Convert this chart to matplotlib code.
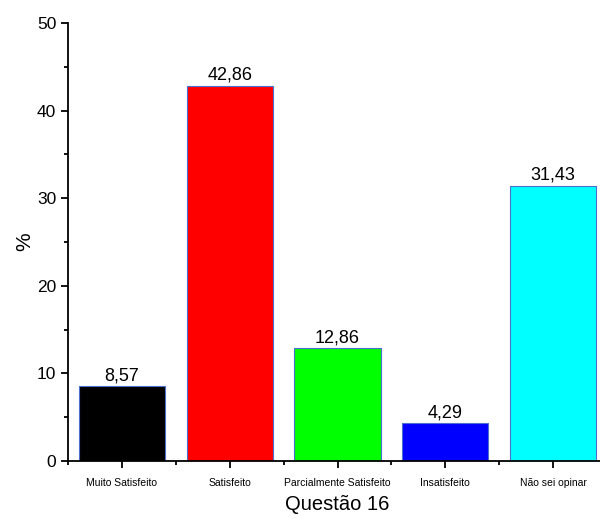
import matplotlib
matplotlib.use("Agg")
import matplotlib.pyplot as plt
from matplotlib.ticker import MultipleLocator, FixedLocator

plt.rcParams['font.family'] = ['Liberation Sans', 'DejaVu Sans']

categories = ["Muito Satisfeito", "Satisfeito", "Parcialmente Satisfeito", "Insatisfeito", "Não sei opinar"]
values = [8.57, 42.86, 12.86, 4.29, 31.43]
value_labels = ["8,57", "42,86", "12,86", "4,29", "31,43"]
colors = ["#000000", "#ff0000", "#00ff00", "#0000ff", "#00ffff"]

fig = plt.figure(figsize=(6.0, 5.19), dpi=100)
ax = fig.add_axes([68/600, 58/519, 539/600, 438/519])
x = list(range(1, len(categories) + 1))
bars = ax.bar(x, values, width=0.8, color=colors, edgecolor="#4a6fd0", linewidth=0.8, zorder=2)
for xi, v, lab in zip(x, values, value_labels):
    ax.text(xi, v + 0.2, lab, ha="center", va="bottom", fontsize=13)

ax.set_xlim(0.5, len(categories) + 0.5)
ax.set_ylim(0, 50)
ax.set_xticks(x)
ax.set_xticklabels(categories, fontsize=7.5)
ax.xaxis.set_minor_locator(FixedLocator([i + 0.5 for i in range(0, len(categories) + 1)]))
ax.yaxis.set_major_locator(MultipleLocator(10))
ax.yaxis.set_minor_locator(MultipleLocator(5))
ax.tick_params(axis='y', which='major', labelsize=12.5, direction='out', length=5, width=1.3)
ax.tick_params(axis='y', which='minor', direction='out', length=3, width=1.3)
ax.tick_params(axis='x', which='major', direction='out', length=5, width=1.3, pad=7)
ax.tick_params(axis='x', which='minor', direction='out', length=3, width=1.3)
for s in ['top', 'right']:
    ax.spines[s].set_visible(False)
for s in ['left', 'bottom']:
    ax.spines[s].set_linewidth(1.3)
ax.set_xlabel("Questão 16", fontsize=14.5, labelpad=5)
ax.set_ylabel("%", fontsize=15, labelpad=2)
fig.savefig("out.png", dpi=100)
